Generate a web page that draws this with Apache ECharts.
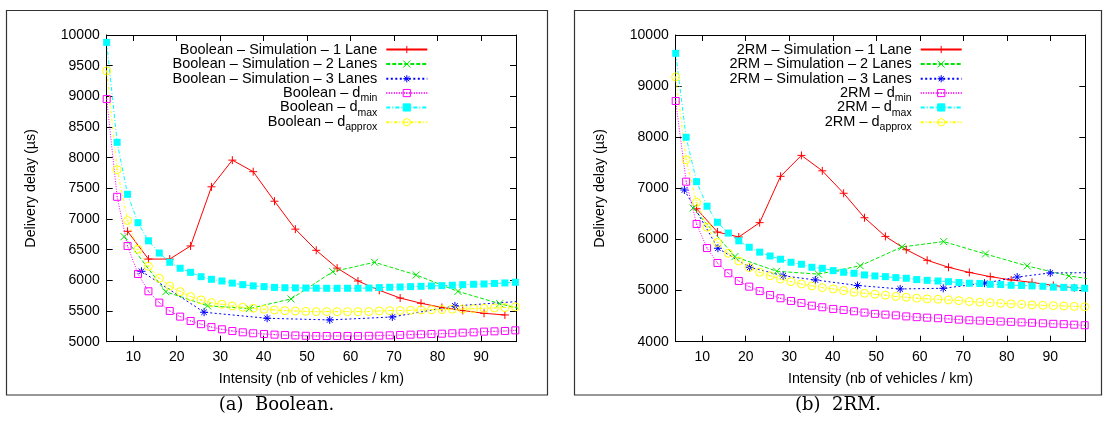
<!DOCTYPE html>
<html><head><meta charset="utf-8">
<script src="https://cdn.jsdelivr.net/npm/echarts@6/dist/echarts.min.js"></script>
<style>html,body{margin:0;padding:0;background:#fff}#c{width:1106px;height:422px}</style>
</head><body><div id="c"></div>
<script>
// ---- data ----
const xGrid = [3.9, 6.3, 8.7, 11.1, 13.5, 16.0, 18.4, 20.8, 23.2, 25.6, 28.0, 30.4, 32.8, 35.2, 37.6, 40.1, 42.5, 44.9, 47.3, 49.7,
               52.1, 54.5, 56.9, 59.3, 61.7, 64.2, 66.6, 69.0, 71.4, 73.8, 76.2, 78.6, 81.0, 83.4, 85.8, 88.3, 90.7, 93.1, 95.5, 97.9];
const xSim1 = [8.7, 13.5, 18.4, 23.2, 28.0, 32.8, 37.6, 42.5, 47.3, 52.1, 56.9, 61.7, 66.6, 71.4, 76.2, 81.0, 85.8, 90.7, 95.5];
const xSim2 = [7.9, 17.5, 27.1, 36.7, 46.3, 55.9, 65.5, 75.1, 84.7, 94.3, 103.9];
const xBoolSim3 = [11.9, 26.3, 40.8, 55.2, 69.6, 84.0, 98.5];
const xRmSim3 = [5.9, 13.6, 20.9, 28.6, 36.0, 45.7, 55.5, 65.4, 74.9, 82.4, 90.0, 99.5];

const boolSim1 = [6800, 6347, 6347, 6561, 7525, 7960, 7772, 7290, 6835, 6490, 6200, 5990, 5838, 5712, 5627, 5558, 5508, 5463, 5436];
const boolSim2 = [6713, 5815, 5585, 5540, 5697, 6142, 6295, 6088, 5820, 5620, 5450];
const boolSim3 = [6148, 5480, 5382, 5355, 5403, 5583, 5655];
const boolDmin = [8955, 7362, 6561, 6104, 5822, 5637, 5501, 5409, 5338, 5286, 5238, 5202, 5174, 5153, 5137, 5126, 5115, 5108, 5102, 5096,
                  5093, 5093, 5093, 5093, 5093, 5095, 5098, 5104, 5109, 5115, 5120, 5126, 5131, 5137, 5147, 5153, 5164, 5169, 5175, 5185];
const boolDmax = [9880, 8250, 7403, 6940, 6645, 6445, 6295, 6197, 6131, 6060, 6017, 5990, 5955, 5930, 5910, 5898, 5885, 5880, 5878, 5875,
                  5872, 5871, 5871, 5871, 5871, 5875, 5882, 5887, 5892, 5898, 5903, 5909, 5914, 5920, 5930, 5936, 5941, 5950, 5958, 5969];
const boolDapprox = [9415, 7805, 6975, 6507, 6230, 6034, 5909, 5816, 5735, 5681, 5637, 5610, 5583, 5561, 5545, 5529, 5518, 5506, 5500, 5495,
                     5490, 5490, 5490, 5490, 5490, 5492, 5501, 5506, 5508, 5512, 5518, 5521, 5524, 5529, 5534, 5539, 5545, 5550, 5556, 5568];

const rmSim1 = [6600, 6145, 6048, 6329, 7235, 7645, 7343, 6904, 6425, 6060, 5800, 5593, 5456, 5355, 5273, 5208, 5160, 5100, 5055];
const rmSim2 = [6615, 5664, 5378, 5322, 5485, 5853, 5958, 5716, 5482, 5286, 5170];
const rmSim3 = [6968, 5828, 5455, 5290, 5208, 5100, 5032, 5045, 5145, 5265, 5345, 5350];
const rmDmin = [8709, 7131, 6303, 5832, 5540, 5339, 5188, 5077, 4990, 4914, 4850, 4797, 4758, 4705, 4674, 4641, 4621, 4595, 4570, 4545,
                4530, 4515, 4495, 4480, 4470, 4459, 4445, 4432, 4420, 4412, 4405, 4395, 4388, 4378, 4370, 4360, 4350, 4343, 4333, 4322];
const rmDmax = [9642, 7999, 7131, 6650, 6336, 6125, 5973, 5847, 5752, 5677, 5613, 5554, 5515, 5456, 5436, 5390, 5358, 5339, 5306, 5286,
                5273, 5253, 5241, 5215, 5201, 5188, 5175, 5158, 5143, 5138, 5123, 5118, 5104, 5100, 5091, 5085, 5068, 5063, 5056, 5045];
const rmDapprox = [9180, 7560, 6727, 6240, 5940, 5730, 5579, 5449, 5358, 5290, 5224, 5175, 5130, 5091, 5058, 5032, 4999, 4967, 4948, 4928,
                   4910, 4885, 4869, 4852, 4838, 4830, 4817, 4804, 4786, 4773, 4764, 4752, 4740, 4732, 4720, 4712, 4705, 4699, 4690, 4684];

const xTicks = [10, 20, 30, 40, 50, 60, 70, 80, 90];
const panels = ['Boolean', '2RM'];
const captions = ['(a)  Boolean.', '(b)  2RM.'];
const yLabel = 'Delivery delay (µs)';
const xLabel = 'Intensity (nb of vehicles / km)';

// ---- styling ----
const FONT = '"Liberation Sans", Arial, Helvetica, sans-serif';
const SYM_PLUS = 'path://M0,4L8,4M4,0L4,8';
const SYM_CROSS = 'path://M0,0L8,8M0,8L8,0';
const SYM_STAR = 'path://M0,4L8,4M4,0L4,8M1.2,1.2L6.8,6.8M1.2,6.8L6.8,1.2';
const SYM_SQ_OPEN = 'path://M0,0L8,0L8,8L0,8ZM3.4,4L4.6,4';
const SYM_CIRC_OPEN = 'path://M8,4A4,4 0 1 1 0,4A4,4 0 1 1 8,4ZM3,4L5,4';

function pairs(xs, ys) { return ys.map((y, i) => [xs[i], y]); }

const styles = [
  {suffix: ' – Simulation – 1 Lane', color: '#ff0000', dash: 'solid', symbol: SYM_PLUS, size: 8, fill: '#ff0000'},
  {suffix: ' – Simulation – 2 Lanes', color: '#00e600', dash: [4, 2], symbol: SYM_CROSS, size: 7, fill: '#00e600'},
  {suffix: ' – Simulation – 3 Lanes', color: '#0000ff', dash: [2, 2.5], symbol: SYM_STAR, size: 8, fill: '#0000ff'},
  {suffix: ' – dmin', color: '#ff00ff', dash: [1, 1.5], symbol: SYM_SQ_OPEN, size: 7, fill: 'none', sub: 'min'},
  {suffix: ' – dmax', color: '#00ffff', dash: [4, 2, 1, 2], symbol: 'rect', size: 7, fill: '#00ffff', noBorder: true, sub: 'max'},
  {suffix: ' – dapprox', color: '#ffff00', dash: [3, 2, 1, 2], symbol: SYM_CIRC_OPEN, size: 8, fill: 'none', sub: 'approx'}
];
// legend row centres (px) shared by both panels
const legendRowCenters = [49.3, 63.8, 78.5, 92.8, 107.2, 122.0];

const panelData = [
  [pairs(xSim1, boolSim1), pairs(xSim2, boolSim2), pairs(xBoolSim3, boolSim3), pairs(xGrid, boolDmin), pairs(xGrid, boolDmax), pairs(xGrid, boolDapprox)],
  [pairs(xSim1, rmSim1), pairs(xSim2, rmSim2), pairs(xRmSim3, rmSim3), pairs(xGrid, rmDmin), pairs(xGrid, rmDmax), pairs(xGrid, rmDapprox)]
];

const labelMap = {};
const series = [];
const legends = [];
const gridDefs = [
  {left: 106.7, top: 35, width: 409.3, height: 306.7},
  {left: 675.7, top: 35, width: 409.6, height: 306.7}
];
const yRanges = [{min: 5000, max: 10000, interval: 500}, {min: 4000, max: 10000, interval: 1000}];
const legendRight = [677.7, 143.3];

const xAxes = [], yAxes = [];
panels.forEach((p, pi) => {
  styles.forEach((s, si) => {
    const name = p + s.suffix;
    labelMap[name] = s.sub ? ('{m|' + p + ' – d}{sub|' + s.sub + '}') : ('{m|' + name + '}');
    series.push({
      type: 'line', name: name,
      xAxisIndex: pi * 2, yAxisIndex: pi * 2,
      data: panelData[pi][si],
      symbol: s.symbol, symbolSize: s.size,
      showAllSymbol: true,
      clip: true,
      lineStyle: {color: s.color, width: 1, type: s.dash},
      itemStyle: {color: s.fill, borderColor: s.color, borderWidth: s.noBorder ? 0 : 1},
      emphasis: {disabled: true},
      animation: false
    });
    legends.push({
      orient: 'vertical', align: 'right', right: legendRight[pi], top: legendRowCenters[si] - 7.25, padding: 0,
      itemGap: 0, itemWidth: 41, itemHeight: 9, selectedMode: false,
      data: [name],
      formatter: (n) => labelMap[n] || n,
      itemStyle: {borderWidth: 1},
      textStyle: {fontFamily: FONT, fontSize: 14.5, color: '#000', lineHeight: 14.5, padding: [0, 4, 0, 0],
        rich: {
          m: {fontFamily: FONT, fontSize: 14.5, lineHeight: 14.5, color: '#000'},
          sub: {fontFamily: FONT, fontSize: 10.5, height: 4, lineHeight: 14.5, verticalAlign: 'bottom', color: '#000'}
        }}
    });
  });
  const axLine = {show: true, lineStyle: {color: '#000', width: 1}};
  xAxes.push({
    type: 'value', gridIndex: pi, position: 'bottom', min: 3.9, max: 98.05,
    axisLine: axLine, splitLine: {show: false},
    axisTick: {show: true, inside: true, length: 6, customValues: xTicks, lineStyle: {color: '#000'}},
    axisLabel: {show: true, customValues: xTicks, margin: 8, color: '#000', fontFamily: FONT, fontSize: 14, formatter: (v) => String(v)},
    name: xLabel, nameLocation: 'middle', nameGap: 30,
    nameTextStyle: {fontFamily: FONT, fontSize: 14.3, color: '#000'}
  });
  xAxes.push({
    type: 'value', gridIndex: pi, position: 'top', min: 3.9, max: 98.05,
    axisLine: axLine, splitLine: {show: false},
    axisTick: {show: true, inside: true, length: 6, customValues: xTicks, lineStyle: {color: '#000'}},
    axisLabel: {show: false, customValues: xTicks}
  });
  yAxes.push({
    type: 'value', gridIndex: pi, position: 'left', min: yRanges[pi].min, max: yRanges[pi].max, interval: yRanges[pi].interval,
    axisLine: axLine, splitLine: {show: false},
    axisTick: {show: true, inside: true, length: 6, lineStyle: {color: '#000'}},
    axisLabel: {show: true, margin: 7, color: '#000', fontFamily: FONT, fontSize: 14, formatter: (v) => String(v)},
    name: yLabel, nameLocation: 'middle', nameGap: 69, nameRotate: 90,
    nameTextStyle: {fontFamily: FONT, fontSize: 14.3, color: '#000'}
  });
  yAxes.push({
    type: 'value', gridIndex: pi, position: 'right', min: yRanges[pi].min, max: yRanges[pi].max, interval: yRanges[pi].interval,
    axisLine: axLine, splitLine: {show: false},
    axisTick: {show: true, inside: true, length: 6, lineStyle: {color: '#000'}},
    axisLabel: {show: false}
  });
});

const CAP_FONT = '18px "DejaVu Serif", "Liberation Serif", serif';
const chart = echarts.init(document.getElementById('c'), null, {renderer: 'canvas'});
chart.setOption({
  animation: false,
  backgroundColor: '#fff',
  grid: gridDefs,
  xAxis: xAxes,
  yAxis: yAxes,
  legend: legends,
  series: series,
  graphic: [
    {type: 'rect', silent: true, shape: {x: 6.5, y: 10.5, width: 541, height: 384.5}, style: {fill: 'none', stroke: '#333', lineWidth: 1.2}},
    {type: 'rect', silent: true, shape: {x: 574.5, y: 10.5, width: 527, height: 384.5}, style: {fill: 'none', stroke: '#333', lineWidth: 1.2}},
    {type: 'text', silent: true, x: 276.5, y: 405, style: {text: captions[0], font: CAP_FONT, fill: '#000', align: 'center', verticalAlign: 'middle', textAlign: 'center', textVerticalAlign: 'middle'}},
    {type: 'text', silent: true, x: 838, y: 405, style: {text: captions[1], font: CAP_FONT, fill: '#000', align: 'center', verticalAlign: 'middle', textAlign: 'center', textVerticalAlign: 'middle'}}
  ]
});
</script>
</body></html>
